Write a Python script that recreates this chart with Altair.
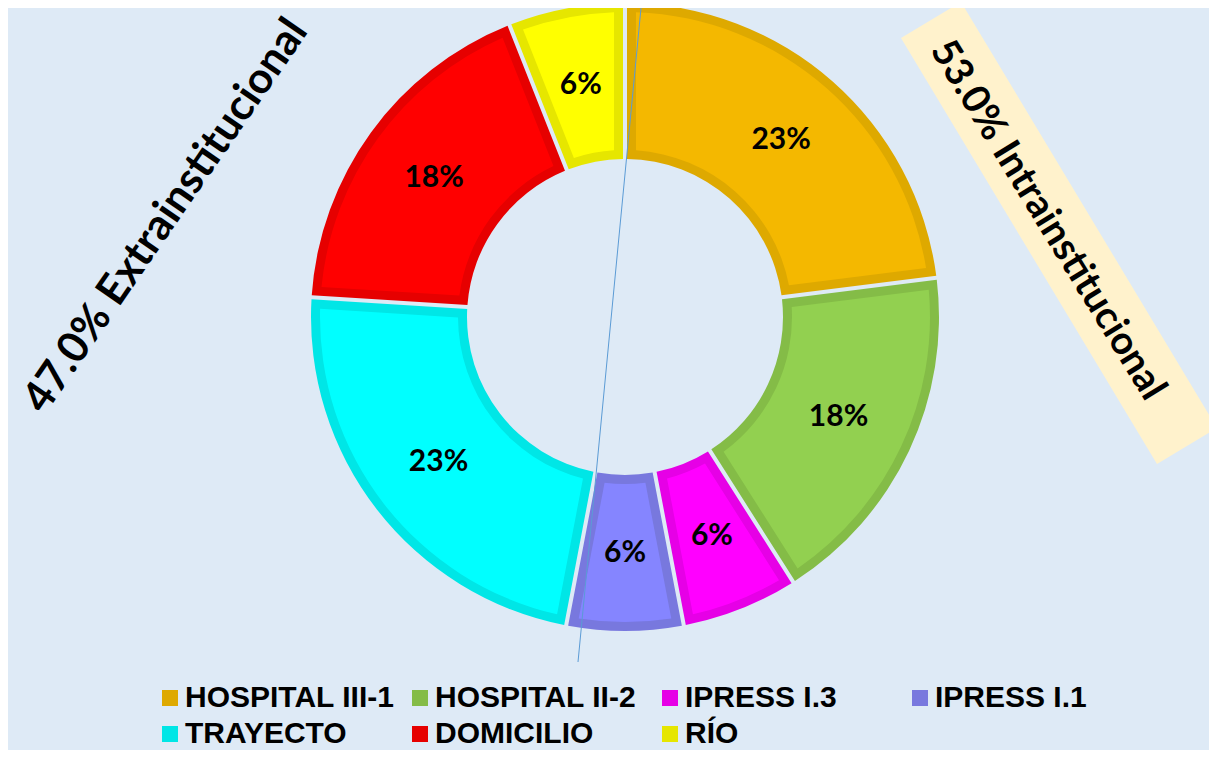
import altair as alt
import pandas as pd

categories = ["HOSPITAL III-1", "HOSPITAL II-2", "IPRESS I.3", "IPRESS I.1",
              "TRAYECTO", "DOMICILIO", "RÍO"]
percent = [23, 18, 6, 6, 23, 18, 6]
fill_colors = ["#F4B800", "#92D050", "#FF00FF", "#8585FF", "#00FFFF", "#FF0000", "#FFFF00"]
border_colors = ["#DEA900", "#84BC47", "#E600E6", "#7878DE", "#00E6E6", "#E60000", "#E6E600"]
left_note = ["47.0% Extrainstitucional"]
right_note = ["53.0% Intrainstitucional"]

df = pd.DataFrame({
    "cat": categories,
    "value": percent,
    "idx": list(range(len(categories))),
})
df["label"] = [f"{v}%" for v in percent]

CX, CY = 617, 309
BG = "#DEEAF6"

base = alt.Chart(df)

outer = base.mark_arc(outerRadius=314, innerRadius=158, padAngle=0.0114).encode(
    theta=alt.Theta("value:Q", stack=True),
    order=alt.Order("idx:Q"),
    color=alt.Color(
        "cat:N",
        scale=alt.Scale(domain=categories, range=border_colors),
        legend=alt.Legend(
            title=None, orient="none", legendX=147, legendY=675,
            columns=4, direction="horizontal", gridAlign="all",
            symbolType="square", symbolSize=256, symbolStrokeWidth=0,
            labelFont="Liberation Sans", labelFontWeight="bold",
            labelFontSize=30, labelColor="black", labelLimit=400,
            labelOffset=0, columnPadding=10, rowPadding=6, padding=0,
        ),
    ),
    x=alt.value(CX),
    y=alt.value(CY),
)

inner = base.mark_arc(outerRadius=305, innerRadius=167, padAngle=0.0633).encode(
    theta=alt.Theta("value:Q", stack=True),
    order=alt.Order("idx:Q"),
    fill=alt.Fill(
        "cat:N",
        scale=alt.Scale(domain=categories, range=fill_colors),
        legend=None,
    ),
    x=alt.value(CX),
    y=alt.value(CY),
)

labels = base.mark_text(
    radius=236, font="Lato", fontWeight="bold", fontSize=30, color="black",
    baseline="middle", align="center",
).encode(
    theta=alt.Theta("value:Q", stack=True),
    order=alt.Order("idx:Q"),
    detail="cat:N",
    text="label:N",
    x=alt.value(CX),
    y=alt.value(CY),
)

box = alt.Chart(pd.DataFrame({"t": right_note})).mark_rule(
    color="#FFF2CC", strokeWidth=70, strokeCap="butt"
).encode(x=alt.value(923), y=alt.value(12), x2=alt.value(1179), y2=alt.value(438))

right_text = alt.Chart(pd.DataFrame({"t": right_note})).mark_text(
    font="Lato", fontWeight="bold", fontSize=39, angle=58.5, color="black",
    align="center", baseline="middle",
).encode(text="t:N", x=alt.value(1040), y=alt.value(212))

left_text = alt.Chart(pd.DataFrame({"t": left_note})).mark_text(
    font="Lato", fontWeight="bold", fontSize=43, angle=304.5, color="black",
    align="center", baseline="middle",
).encode(text="t:N", x=alt.value(158), y=alt.value(208))

blue_line = alt.Chart(pd.DataFrame({"t": ["line"]})).mark_rule(
    color="#5B9BD5", strokeWidth=1
).encode(x=alt.value(633), y=alt.value(0), x2=alt.value(570), y2=alt.value(654))

chart = alt.layer(
    box, outer, inner, labels, right_text, left_text, blue_line
).resolve_scale(color="independent", fill="independent").properties(
    width=1201, height=742, background=BG, padding=0, autosize="none"
).configure_view(stroke=None)

chart.save("out.html", embed_options={"renderer": "svg", "actions": False})
